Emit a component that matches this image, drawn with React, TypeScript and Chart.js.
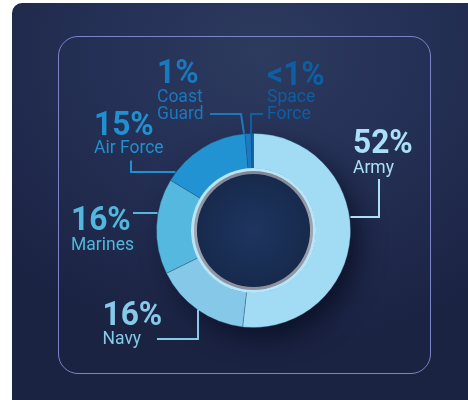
import React, { useEffect, useRef } from "react";
import { Chart, registerables } from "chart.js";

Chart.register(...registerables);

const branches = ["Army", "Navy", "Marines", "Air Force", "Coast Guard", "Space Force"];
const shares = [52, 16, 16, 15, 1, 0.4];
const shareLabels = ["52%", "16%", "16%", "15%", "1%", "<1%"];
const nameLines = [["Army"], ["Navy"], ["Marines"], ["Air Force"], ["Coast", "Guard"], ["Space", "Force"]];
const sliceColors = ["#a2dcf4", "#85c8e8", "#55b8de", "#2192d2", "#1a7bc2", "#1063a8"];
const textColors = ["#ace0f6", "#86c9e8", "#52b6dd", "#2090d0", "#1a78bf", "#0f5ea2"];

// label layout, offsets relative to the doughnut centre
const labelLayout = [
  { x: 99.5, pctY: -77.5, nameY: [-58], line: [[125.5, -51.5], [125.5, -13.5], [97, -13.5]] },
  { x: -151, pctY: 94.5, nameY: [113], line: [[-96.5, 108.5], [-55.5, 108.5], [-55.5, 79]] },
  { x: -182.5, pctY: -0.5, nameY: [19.5], line: [[-120.5, -17.5], [-96, -17.5]] },
  { x: -159.5, pctY: -95.5, nameY: [-77.5], line: [[-122.5, -70], [-122.5, -58.5], [-78, -58.5]] },
  { x: -96.5, pctY: -147.5, nameY: [-128.5, -112], line: [[-43.5, -116.5], [-12.5, -116.5], [-9.5, -97]] },
  { x: 13.5, pctY: -145.5, nameY: [-128.5, -112], line: [[9.5, -116.5], [-2.5, -116.5], [-2.5, -97]] },
];

const decor = {
  id: "decor",
  beforeDatasetsDraw(chart: any) {
    const arc = chart.getDatasetMeta(0).data[0];
    if (!arc) return;
    const ctx = chart.ctx;
    ctx.save();
    ctx.shadowColor = "rgba(6,10,28,0.7)";
    ctx.shadowBlur = 26;
    ctx.shadowOffsetX = 10;
    ctx.shadowOffsetY = 12;
    ctx.beginPath();
    ctx.arc(arc.x, arc.y, arc.outerRadius - 1, 0, Math.PI * 2);
    ctx.fillStyle = "#1b2444";
    ctx.fill();
    ctx.restore();
  },
  afterDatasetsDraw(chart: any) {
    const arc = chart.getDatasetMeta(0).data[0];
    if (!arc) return;
    const ctx = chart.ctx;
    const { x, y, innerRadius } = arc;
    ctx.save();
    ctx.beginPath();
    ctx.arc(x, y, innerRadius + 0.5, 0, Math.PI * 2);
    ctx.fillStyle = "#b6e6f8";
    ctx.fill();
    const g = ctx.createLinearGradient(x, y - innerRadius, x, y + innerRadius);
    g.addColorStop(0, "#7f8393");
    g.addColorStop(0.5, "#a3a6b2");
    g.addColorStop(1, "#8a8d9b");
    ctx.beginPath();
    ctx.arc(x, y, innerRadius - 2.5, 0, Math.PI * 2);
    ctx.fillStyle = g;
    ctx.fill();
    const h = ctx.createRadialGradient(x, y, 0, x, y, innerRadius - 5.5);
    h.addColorStop(0, "#1e3560");
    h.addColorStop(1, "#172a4d");
    ctx.beginPath();
    ctx.arc(x, y, innerRadius - 5.5, 0, Math.PI * 2);
    ctx.fillStyle = h;
    ctx.fill();
    ctx.restore();
  },
  afterDraw(chart: any) {
    const arc = chart.getDatasetMeta(0).data[0];
    if (!arc) return;
    const ctx = chart.ctx;
    const cx = arc.x;
    const cy = arc.y;
    ctx.save();
    labelLayout.forEach((l, i) => {
      const col = textColors[i];
      ctx.strokeStyle = col;
      ctx.lineWidth = 2;
      ctx.lineJoin = "miter";
      ctx.beginPath();
      l.line.forEach((p, j) => {
        if (j === 0) ctx.moveTo(cx + p[0], cy + p[1]);
        else ctx.lineTo(cx + p[0], cy + p[1]);
      });
      ctx.stroke();
      ctx.fillStyle = col;
      ctx.textAlign = "left";
      ctx.textBaseline = "alphabetic";
      ctx.font = "700 32px Roboto";
      ctx.save();
      ctx.translate(cx + l.x, cy + l.pctY);
      ctx.scale(0.99, 1.04);
      ctx.fillText(shareLabels[i], 0, 0);
      ctx.restore();
      ctx.font = "400 17.5px Roboto";
      nameLines[i].forEach((t, k) => {
        ctx.fillText(t, cx + l.x, cy + l.nameY[k]);
      });
    });
    ctx.restore();
  },
};

export default function App() {
  const ref = useRef<HTMLCanvasElement | null>(null);
  useEffect(() => {
    if (!ref.current) return;
    const chart = new Chart(ref.current, {
      type: "doughnut",
      data: {
        labels: branches,
        datasets: [
          {
            data: shares,
            backgroundColor: sliceColors,
            borderColor: "rgba(40,80,120,0.35)",
            borderWidth: 1,
          },
        ],
      },
      options: {
        responsive: false,
        animation: false,
        cutout: "64%",
        layout: { padding: { left: 156, right: 117, top: 133, bottom: 72 } },
        plugins: { legend: { display: false }, tooltip: { enabled: false } },
      },
      plugins: [decor],
    });
    return () => chart.destroy();
  }, []);
  return (
    <div style={{ position: "fixed", left: 0, top: 0, width: 468, height: 400, background: "#ffffff", overflow: "hidden" }}>
      <div
        style={{
          position: "absolute",
          left: 12,
          top: 3,
          width: 480,
          height: 420,
          borderRadius: 10,
          background: "radial-gradient(ellipse 75% 70% at 52% 12%, #2d3b5f 0%, #243055 45%, #1b2343 100%)",
        }}
      />
      <div
        style={{
          position: "absolute",
          left: 58,
          top: 36,
          width: 373,
          height: 338,
          boxSizing: "border-box",
          border: "1px solid #7a84c6",
          borderRadius: 20,
        }}
      />
      <canvas ref={ref} width={468} height={400} style={{ position: "absolute", left: 0, top: 0 }} />
    </div>
  );
}
